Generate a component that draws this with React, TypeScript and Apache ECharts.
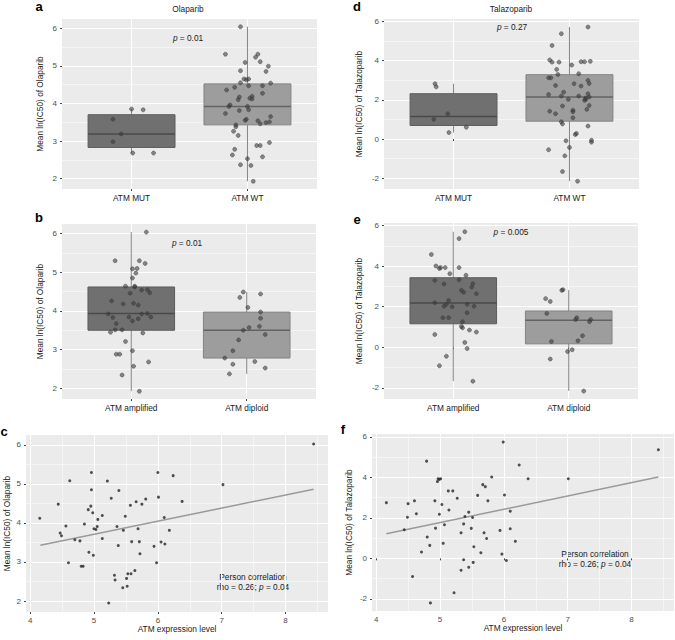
import React, { useEffect, useRef } from 'react';
import * as echarts from 'echarts';

const FONT = "'Liberation Sans', Arial, Helvetica, sans-serif";

// ---------- categories ----------
const mutationCategories = ['ATM MUT', 'ATM WT'];
const copyCategories = ['ATM amplified', 'ATM diploid'];

// ---------- tick labels ----------
const olaTicks = [2, 3, 4, 5, 6];
const talTicks = [-2, 0, 2, 4, 6];
const exprTicks = [4, 5, 6, 7, 8];

// ---------- box statistics [min, Q1, median, Q3, max] ----------
const olaMutBox = [2.68, 2.83, 3.19, 3.70, 3.85];
const olaWtBox = [1.93, 3.43, 3.92, 4.52, 6.04];
const olaAmpBox = [1.92, 3.50, 3.93, 4.62, 6.04];
const olaDipBox = [2.37, 2.78, 3.50, 3.97, 4.49];
const talMutBox = [0.33, 0.69, 1.15, 2.31, 2.82];
const talWtBox = [-2.15, 0.91, 2.14, 3.28, 5.71];
const talAmpBox = [-1.67, 1.16, 2.18, 3.43, 5.70];
const talDipBox = [-2.15, 0.17, 1.33, 1.79, 2.82];

// ---------- jittered points [jittered x position, value] ----------
const olaMutPoints = [[1.00, 3.85], [1.10, 3.83], [0.84, 3.58], [0.91, 3.19], [0.84, 2.98], [1.01, 2.68], [1.19, 2.68]];
const olaWtPoints = [
  [1.94, 6.04], [1.81, 5.31], [2.09, 5.31], [2.07, 5.23], [1.98, 5.09], [2.11, 5.11], [2.18, 4.99], [1.94, 4.87],
  [2.16, 4.85], [1.97, 4.65], [1.99, 4.63], [2.01, 4.65], [1.94, 4.55], [2.01, 4.47], [2.13, 4.47], [2.20, 4.54],
  [1.89, 4.43], [1.82, 4.36], [2.13, 4.27], [1.93, 4.17], [2.04, 4.19], [2.02, 4.14], [1.92, 4.10], [2.04, 4.12],
  [1.85, 3.96], [1.84, 3.92], [2.00, 3.92], [2.01, 3.83], [1.93, 3.81], [1.81, 3.73], [2.20, 3.65], [1.99, 3.58],
  [1.98, 3.55], [2.09, 3.54], [2.11, 3.46], [2.16, 3.49], [2.19, 3.51], [1.90, 3.43], [1.90, 3.38], [1.88, 3.26],
  [1.92, 3.15], [2.19, 2.96], [2.08, 2.88], [2.11, 2.88], [1.89, 2.78], [1.87, 2.63], [2.00, 2.53], [2.13, 2.58],
  [1.94, 2.37], [2.03, 2.35], [2.05, 1.93],
];
const olaAmpPoints = [
  [1.13, 6.04], [0.86, 5.30], [1.07, 5.30], [1.12, 5.23], [1.01, 5.09], [1.05, 5.10], [1.04, 4.98], [1.01, 4.85],
  [0.95, 4.64], [1.03, 4.64], [1.03, 4.62], [1.09, 4.54], [1.14, 4.55], [0.99, 4.46], [1.16, 4.47], [0.83, 4.26],
  [0.93, 4.18], [1.02, 4.20], [1.06, 4.15], [0.80, 3.92], [1.09, 3.92], [1.14, 3.93], [0.84, 3.83], [0.98, 3.84],
  [1.06, 3.80], [1.17, 3.84], [0.87, 3.67], [1.01, 3.74], [0.86, 3.51], [0.92, 3.51], [0.82, 3.45], [1.10, 3.43],
  [0.95, 3.21], [1.01, 2.97], [0.87, 2.88], [0.90, 2.88], [1.15, 2.68], [1.02, 2.57], [0.92, 2.34], [1.07, 1.92],
];
const olaDipPoints = [
  [1.97, 4.49], [2.12, 4.44], [1.94, 4.35], [2.01, 4.09], [2.12, 3.97], [2.12, 3.81], [2.11, 3.60], [2.02, 3.57],
  [1.97, 3.50], [2.16, 3.39], [1.93, 3.25], [1.88, 2.97], [1.81, 2.78], [2.07, 2.69], [1.88, 2.62], [2.16, 2.52],
  [1.85, 2.37],
];
const talMutPoints = [[0.84, 2.82], [0.85, 2.66], [0.95, 1.29], [0.83, 1.00], [1.11, 0.60], [0.96, 0.33]];
const talWtPoints = [
  [2.16, 5.71], [1.93, 5.37], [1.85, 4.77], [1.83, 4.03], [1.85, 3.92], [1.91, 3.92], [2.10, 3.94], [2.13, 3.94],
  [2.18, 3.96], [2.02, 3.77], [1.89, 3.55], [1.90, 3.29], [2.08, 3.33], [1.82, 3.12], [1.84, 3.12], [2.16, 2.99],
  [2.17, 2.83], [1.88, 2.73], [2.04, 2.82], [2.10, 2.70], [1.95, 2.39], [2.16, 2.31], [1.82, 2.27], [1.93, 2.19],
  [2.08, 2.19], [2.17, 2.14], [1.99, 2.02], [2.14, 2.09], [2.14, 2.02], [2.13, 1.97], [2.17, 1.71], [1.94, 1.68],
  [1.83, 1.42], [2.03, 1.47], [2.03, 1.39], [2.15, 1.51], [1.88, 1.29], [2.03, 1.08], [1.93, 0.88], [1.94, 0.77],
  [2.16, 0.66], [2.06, 0.28], [2.05, 0.23], [2.19, -0.06], [2.19, -0.16], [1.97, -0.09], [2.00, -0.43], [1.82, -0.55],
  [1.96, -0.86], [1.94, -1.66], [2.07, -2.15],
];
const talAmpPoints = [
  [1.10, 5.70], [1.05, 5.36], [0.81, 4.58], [0.85, 4.01], [0.88, 3.89], [0.89, 3.93], [0.93, 3.93], [0.97, 3.63],
  [1.05, 3.93], [1.11, 3.55], [0.84, 3.30], [1.05, 3.33], [0.92, 3.12], [1.17, 3.14], [1.16, 2.97], [1.07, 2.81],
  [1.09, 2.71], [1.20, 2.64], [0.84, 2.20], [0.96, 2.31], [0.94, 2.12], [0.92, 2.02], [0.99, 2.00], [1.12, 2.12],
  [1.18, 2.03], [0.91, 1.46], [0.96, 1.46], [1.12, 1.70], [1.08, 1.26], [1.07, 1.03], [1.08, 0.96], [1.14, 0.85],
  [1.20, 0.75], [0.84, 0.63], [1.10, 0.24], [1.12, -0.06], [0.94, -0.44], [0.88, -0.91], [1.17, -1.67],
];
const talDipPoints = [
  [1.94, 2.81], [1.95, 2.84], [1.80, 2.40], [1.84, 2.26], [1.81, 1.67], [2.07, 1.46], [2.06, 1.37], [2.19, 1.37],
  [2.18, 1.26], [2.12, 0.57], [1.85, 0.29], [2.08, 0.32], [1.99, -0.21], [2.03, -0.12], [1.84, -0.58], [2.13, -2.16],
];

// ---------- scatter: [ATM expression level, mean ln(IC50)] ----------
const olaExprPoints = [
  [4.15, 4.12], [4.44, 4.48], [4.47, 3.74], [4.49, 3.67], [4.56, 3.92], [4.60, 2.98], [4.62, 5.08], [4.70, 3.57],
  [4.78, 3.54], [4.80, 2.89], [4.83, 2.89], [4.85, 3.97], [4.92, 3.25], [4.91, 4.34], [4.95, 4.43], [4.96, 5.29],
  [4.96, 4.85], [4.98, 4.26], [4.99, 3.17], [5.00, 3.85], [5.03, 3.83], [5.05, 3.91], [5.06, 4.09], [5.13, 4.19],
  [5.13, 3.60], [5.21, 5.07], [5.23, 1.95], [5.27, 4.63], [5.32, 2.66], [5.33, 2.54], [5.36, 3.91], [5.38, 3.42],
  [5.39, 4.83], [5.46, 3.81], [5.45, 2.34], [5.49, 4.17], [5.51, 2.58], [5.52, 2.38], [5.53, 2.70], [5.58, 2.70],
  [5.57, 4.45], [5.59, 3.52], [5.64, 2.78], [5.66, 4.54], [5.69, 3.85], [5.71, 3.52], [5.72, 3.21], [5.75, 4.48],
  [5.81, 4.61], [5.94, 3.40], [5.98, 2.98], [6.00, 5.29], [6.01, 4.66], [6.05, 3.51], [6.10, 4.14], [6.11, 3.46],
  [6.18, 3.81], [6.24, 5.21], [6.38, 4.55], [7.02, 4.98], [8.44, 6.02],
];
const talExprPoints = [
  [4.16, 2.75], [4.44, 1.41], [4.49, 2.03], [4.50, 2.70], [4.57, -0.90], [4.60, 2.84], [4.63, 2.20], [4.71, 0.31],
  [4.79, 4.80], [4.80, 1.05], [4.84, 0.64], [4.85, -2.20], [4.92, 2.84], [4.93, 1.49], [4.96, 3.79], [4.97, 3.93],
  [4.99, 3.90], [5.01, 3.93], [4.99, 2.18], [5.03, 2.66], [5.05, 0.74], [5.07, 1.66], [5.13, 3.33], [5.14, 2.39],
  [5.20, 3.33], [5.22, -1.70], [5.27, 2.97], [5.33, 1.26], [5.33, -0.59], [5.37, 1.70], [5.37, -0.07], [5.39, 2.07],
  [5.45, 2.28], [5.45, -0.44], [5.49, 1.48], [5.51, 2.02], [5.52, -0.20], [5.53, 0.57], [5.59, 3.11], [5.64, 0.28],
  [5.67, 3.64], [5.69, 1.26], [5.71, 3.54], [5.73, 0.98], [5.75, 2.84], [5.81, 4.02], [5.94, 1.38], [5.97, 0.21],
  [5.99, 5.74], [6.01, 3.13], [6.04, -0.11], [6.10, 2.33], [6.10, 1.46], [6.18, 0.84], [6.24, 4.61], [6.38, 3.93],
  [7.01, 3.93], [8.42, 5.36],
];
// fitted regression line end points
const olaFitLine = [[4.16, 3.43], [8.44, 4.86]];
const talFitLine = [[4.16, 1.21], [8.42, 4.02]];

const GRIDS = [
  { left: 62, top: 19, width: 255, height: 170 },   // a
  { left: 62, top: 224, width: 254, height: 175 },  // b
  { left: 26, top: 435, width: 302, height: 177 },  // c
  { left: 384, top: 19, width: 255, height: 170 },  // d
  { left: 384, top: 223, width: 254, height: 176 }, // e
  { left: 372, top: 434, width: 302, height: 177 }, // f
];

const BOX_FILL = ['#707070', '#9d9d9d'];
const BOX_BORDER = ['#5c5c5c', '#838383'];
const MEDIAN = ['#4a4a4a', '#636363'];

function yAxis(gridIndex: number, min: number, max: number, ticks: number[], name: string, nameGap: number) {
  return {
    type: 'value', gridIndex, min, max, splitNumber: 5,
    name, nameLocation: 'middle', nameGap,
    nameTextStyle: { fontSize: 8.3, color: '#1a1a1a', fontFamily: FONT },
    axisLine: { show: false },
    axisTick: { show: true, length: 2, lineStyle: { color: '#444' }, customValues: ticks },
    axisLabel: { customValues: ticks, fontSize: 8, color: '#4d4d4d', margin: 5, fontFamily: FONT },
    splitLine: { show: true, lineStyle: { color: '#ffffff', width: 1 } },
    minorTick: { show: false, splitNumber: 2 },
    minorSplitLine: { show: true, lineStyle: { color: '#ffffff', width: 0.5 } },
  };
}

function catAxis(gridIndex: number, cats: string[]) {
  return {
    type: 'value', gridIndex, min: 0.4, max: 2.6, splitNumber: 2,
    axisLine: { show: false },
    axisTick: { show: true, length: 2, lineStyle: { color: '#444' }, customValues: [1, 2] },
    axisLabel: {
      customValues: [1, 2], fontSize: 8.3, color: '#1a1a1a', margin: 5, fontFamily: FONT,
      formatter: (v: number) => (v === 1 ? cats[0] : v === 2 ? cats[1] : ''),
    },
    splitLine: { show: true, lineStyle: { color: '#ffffff', width: 1 } },
  };
}

function exprAxis(gridIndex: number) {
  return {
    type: 'value', gridIndex, min: 3.935, max: 8.665, splitNumber: 5,
    name: 'ATM expression level', nameLocation: 'middle', nameGap: 13,
    nameTextStyle: { fontSize: 8.3, color: '#1a1a1a', fontFamily: FONT },
    axisLine: { show: false },
    axisTick: { show: true, length: 2, lineStyle: { color: '#444' }, customValues: exprTicks },
    axisLabel: { customValues: exprTicks, fontSize: 8, color: '#4d4d4d', margin: 4, fontFamily: FONT },
    splitLine: { show: true, lineStyle: { color: '#ffffff', width: 1 } },
    minorTick: { show: false, splitNumber: 2 },
    minorSplitLine: { show: true, lineStyle: { color: '#ffffff', width: 0.5 } },
  };
}

function boxSeries(axisIndex: number, boxes: number[][]) {
  return {
    type: 'custom', xAxisIndex: axisIndex, yAxisIndex: axisIndex, z: 2, silent: true,
    encode: { x: 0, y: [1, 2, 3, 4, 5] },
    data: boxes.map((b, i) => [i + 1, ...b]),
    renderItem: (params: any, api: any) => {
      const x = api.value(0);
      const idx = params.dataIndex;
      const lo = api.coord([x, api.value(1)]);
      const q1 = api.coord([x, api.value(2)]);
      const md = api.coord([x, api.value(3)]);
      const q3 = api.coord([x, api.value(4)]);
      const hi = api.coord([x, api.value(5)]);
      const half = api.size([0.375, 0])[0];
      return {
        type: 'group',
        children: [
          { type: 'line', shape: { x1: hi[0], y1: hi[1], x2: q3[0], y2: q3[1] }, style: { stroke: '#858585', lineWidth: 1 } },
          { type: 'line', shape: { x1: q1[0], y1: q1[1], x2: lo[0], y2: lo[1] }, style: { stroke: '#858585', lineWidth: 1 } },
          {
            type: 'rect',
            shape: { x: q3[0] - half, y: q3[1], width: half * 2, height: q1[1] - q3[1] },
            style: { fill: BOX_FILL[idx], stroke: BOX_BORDER[idx], lineWidth: 1 },
          },
          { type: 'line', shape: { x1: md[0] - half, y1: md[1], x2: md[0] + half, y2: md[1] }, style: { stroke: MEDIAN[idx], lineWidth: 1.5 } },
        ],
      };
    },
  };
}

function jitterSeries(axisIndex: number, pts: number[][]) {
  return {
    type: 'scatter', xAxisIndex: axisIndex, yAxisIndex: axisIndex, z: 3, silent: true,
    symbol: 'circle', symbolSize: 4, data: pts,
    itemStyle: { color: 'rgba(55,55,55,0.72)', borderColor: '#424242', borderWidth: 0.6 },
  };
}

function exprSeries(axisIndex: number, pts: number[][], fit: number[][]) {
  return [
    {
      type: 'scatter', xAxisIndex: axisIndex, yAxisIndex: axisIndex, z: 3, silent: true,
      symbol: 'circle', symbolSize: 3, data: pts, itemStyle: { color: '#262626' },
    },
    {
      type: 'line', xAxisIndex: axisIndex, yAxisIndex: axisIndex, z: 2, silent: true,
      showSymbol: false, data: fit, lineStyle: { color: '#9a9a9a', width: 1.5 },
    },
  ];
}

function txt(x: number, y: number, text: string, opts: any = {}) {
  return {
    type: 'text', x, y, silent: true,
    style: {
      text, fill: opts.fill || '#1a1a1a', fontFamily: FONT, fontSize: opts.fontSize || 8.3,
      fontWeight: opts.fontWeight || 'normal',
      align: opts.align || 'center', verticalAlign: 'middle',
      textAlign: opts.align || 'center', textVerticalAlign: 'middle',
      lineHeight: 10,
      rich: {
        i: { fontStyle: 'italic', fontSize: 8.3, fontFamily: FONT, fill: '#1a1a1a', lineHeight: 10 },
        n: { fontSize: 8.3, fontFamily: FONT, fill: '#1a1a1a', lineHeight: 10 },
      },
    },
  };
}

export default function App() {
  const ref = useRef<HTMLDivElement>(null);
  useEffect(() => {
    if (!ref.current) return;
    const chart = echarts.init(ref.current, undefined, { renderer: 'svg' });
    const option: any = {
      animation: false,
      backgroundColor: '#ffffff',
      grid: GRIDS.map((g) => ({ ...g, show: true, backgroundColor: '#ebebeb', borderWidth: 0 })),
      xAxis: [
        catAxis(0, mutationCategories),
        catAxis(1, copyCategories),
        exprAxis(2),
        catAxis(3, mutationCategories),
        catAxis(4, copyCategories),
        exprAxis(5),
      ],
      yAxis: [
        yAxis(0, 1.725, 6.245, olaTicks, 'Mean ln(IC50) of Olaparib', 18),
        yAxis(1, 1.72, 6.25, olaTicks, 'Mean ln(IC50) of Olaparib', 18),
        yAxis(2, 1.72, 6.25, olaTicks, 'Mean ln(IC50) of Olaparib', 15),
        yAxis(3, -2.55, 6.12, talTicks, 'Mean ln(IC50) of Talazoparib', 21),
        yAxis(4, -2.55, 6.13, talTicks, 'Mean ln(IC50) of Talazoparib', 21),
        yAxis(5, -2.6, 6.14, talTicks, 'Mean ln(IC50) of Talazoparib', 19),
      ],
      series: [
        boxSeries(0, [olaMutBox, olaWtBox]),
        jitterSeries(0, [...olaMutPoints, ...olaWtPoints]),
        boxSeries(1, [olaAmpBox, olaDipBox]),
        jitterSeries(1, [...olaAmpPoints, ...olaDipPoints]),
        ...exprSeries(2, olaExprPoints, olaFitLine),
        boxSeries(3, [talMutBox, talWtBox]),
        jitterSeries(3, [...talMutPoints, ...talWtPoints]),
        boxSeries(4, [talAmpBox, talDipBox]),
        jitterSeries(4, [...talAmpPoints, ...talDipPoints]),
        ...exprSeries(5, talExprPoints, talFitLine),
      ],
      graphic: [
        txt(39, 6, 'a', { fontSize: 13, fontWeight: 'bold', fill: '#000' }),
        txt(357, 6, 'd', { fontSize: 13, fontWeight: 'bold', fill: '#000' }),
        txt(39, 217, 'b', { fontSize: 13, fontWeight: 'bold', fill: '#000' }),
        txt(357, 219, 'e', { fontSize: 13, fontWeight: 'bold', fill: '#000' }),
        txt(4, 431, 'c', { fontSize: 13, fontWeight: 'bold', fill: '#000' }),
        txt(343, 429, 'f', { fontSize: 13, fontWeight: 'bold', fill: '#000' }),
        txt(188, 9, 'Olaparib'),
        txt(511, 9, 'Talazoparib'),
        txt(188, 38, '{i|p}{n| = 0.01}'),
        txt(512, 27, '{i|p}{n| = 0.27}'),
        txt(187, 243, '{i|p}{n| = 0.01}'),
        txt(511, 232, '{i|p}{n| = 0.005}'),
        txt(253, 582, '{n|Person correlation}\n{n|rho = 0.26; }{i|p}{n| = 0.04}'),
        txt(595, 559, '{n|Person correlation}\n{n|rho = 0.26; }{i|p}{n| = 0.04}'),
      ],
    };
    chart.setOption(option);
    return () => chart.dispose();
  }, []);
  return (
    <div
      ref={ref}
      style={{ position: 'absolute', left: 0, top: 0, width: 675, height: 640 }}
    />
  );
}
